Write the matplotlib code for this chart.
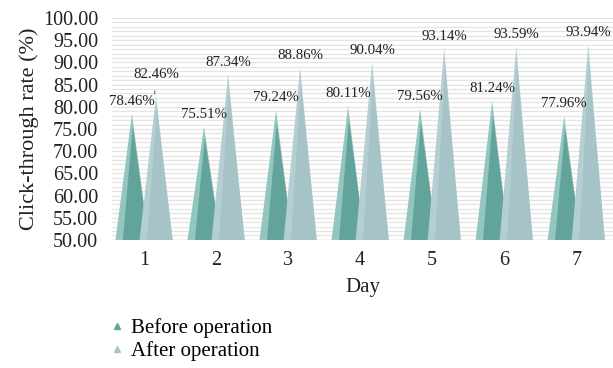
import numpy as np
import matplotlib.pyplot as plt
from matplotlib.lines import Line2D

plt.rcParams['font.family'] = ['Liberation Serif', 'DejaVu Serif']

days = [1, 2, 3, 4, 5, 6, 7]
before = [78.46, 75.51, 79.24, 80.11, 79.56, 81.24, 77.96]
after = [82.46, 87.34, 88.86, 90.04, 93.14, 93.59, 93.94]

base = 50.0
half_w = 0.23
offset = 0.167

before_light = '#93c6bf'
before_dark = '#62a49b'
after_light = '#b4ced2'
after_dark = '#a6c3c8'


def draw_pyramid(ax, xc, top, lit, shade, z):
    # lit silhouette, with the shaded right-hand face drawn over it
    h = top - base
    ax.fill([xc - half_w, xc, xc + half_w], [base, top, base],
            color=lit, lw=0, zorder=z)
    ax.fill([xc - 0.55 * half_w, xc + half_w, xc + 0.01],
            [base, base, base + 0.9 * h],
            color=shade, lw=0, zorder=z + 0.1)


fig = plt.figure(figsize=(6.13, 3.68), dpi=100)
ax = fig.add_axes([112 / 613, 0.348, 1 - 112 / 613, 0.603])

# dense horizontal grid
for yv in np.arange(50, 100.5, 1.0):
    ax.axhline(yv, color='#e4e4e4', lw=0.9, zorder=0)

for d, b, a in zip(days, before, after):
    draw_pyramid(ax, d - offset, b, before_light, before_dark, 2)
    draw_pyramid(ax, d + offset, a, after_light, after_dark, 3)
    ax.text(d - offset, b + 2.8, f'{b:.2f}%', ha='center', va='center',
            fontsize=10.7, color='#222222', zorder=5)
    if d == 1:
        ax.annotate(f'{a:.2f}%', xy=(d + offset - 0.02, a + 0.4),
                    xytext=(d + offset, a + 4.8), ha='center', va='center',
                    fontsize=10.7, color='#222222', zorder=5,
                    arrowprops=dict(arrowstyle='-', color='#555555', lw=0.7,
                                    shrinkA=5, shrinkB=0))
    else:
        ax.text(d + offset, a + 2.7, f'{a:.2f}%', ha='center', va='center',
                fontsize=10.7, color='#222222', zorder=5)

ax.set_xlim(0.555, 7.51)
ax.set_ylim(50, 100)
ax.set_yticks(np.arange(50, 100.1, 5))
ax.set_yticklabels([f'{v:.2f}' for v in np.arange(50, 100.1, 5)])
ax.set_xticks(days)
ax.set_xticklabels([str(d) for d in days])
ax.tick_params(axis='both', length=0, labelsize=14.5, colors='#222222')
ax.tick_params(axis='x', pad=8)
ax.tick_params(axis='y', pad=10)
for s in ax.spines.values():
    s.set_visible(False)
ax.axhline(50, color='#d0d0d0', lw=1.0, zorder=1)

ax.set_xlabel('Day', fontsize=15, color='#222222', labelpad=6)
ax.set_ylabel('Click-through rate (%)', fontsize=16, color='#222222', labelpad=3)

handles = [
    Line2D([], [], ls='none', marker='^', markersize=4.5, color=before_dark),
    Line2D([], [], ls='none', marker='^', markersize=4.5, color=after_dark),
]
fig.legend(handles, ['Before operation', 'After operation'],
           loc='upper left', bbox_to_anchor=(98 / 613, 1 - 310 / 368),
           frameon=False, fontsize=15, handletextpad=0.2, handlelength=1.0,
           labelspacing=0.15, borderaxespad=0)

fig.savefig('out.png', dpi=100)
